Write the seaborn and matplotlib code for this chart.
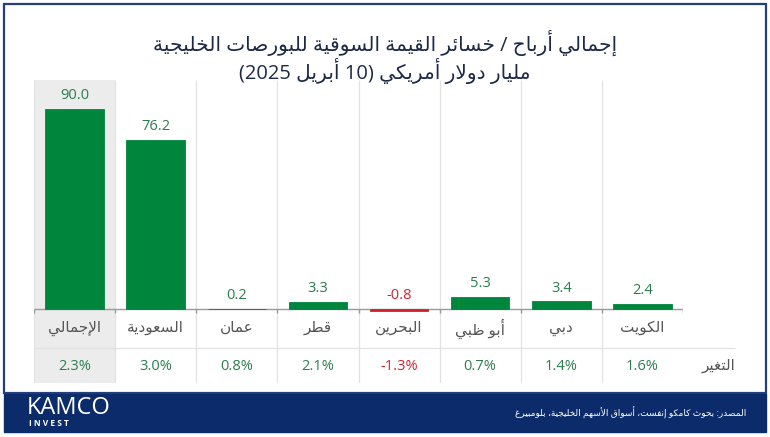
import re
import matplotlib
matplotlib.use("Agg")
import matplotlib.pyplot as plt
from matplotlib.patches import Rectangle
import pandas as pd
import seaborn as sns

markets = ["الإجمالي", "السعودية", "عمان", "قطر", "البحرين", "أبو ظبي", "دبي", "الكويت"]
values = [90.0, 76.2, 0.2, 3.3, -0.8, 5.3, 3.4, 2.4]
changes = [2.3, 3.0, 0.8, 2.1, -1.3, 0.7, 1.4, 1.6]

title_1 = "إجمالي أرباح / خسائر القيمة السوقية للبورصات الخليجية"
title_2 = "مليار دولار أمريكي (10 أبريل 2025)"
change_label = "التغير"
source = "المصدر: بحوث كامكو إنفست، أسواق الأسهم الخليجية، بلومبيرغ"

# matplotlib does no arabic shaping, so pick the presentation forms by hand
# letter -> (first presentation form, number of forms)
FORMS = {
    "ء": (0xFE80, 1), "آ": (0xFE81, 2), "أ": (0xFE83, 2), "ؤ": (0xFE85, 2),
    "إ": (0xFE87, 2), "ئ": (0xFE89, 4), "ا": (0xFE8D, 2), "ب": (0xFE8F, 4),
    "ة": (0xFE93, 2), "ت": (0xFE95, 4), "ث": (0xFE99, 4), "ج": (0xFE9D, 4),
    "ح": (0xFEA1, 4), "خ": (0xFEA5, 4), "د": (0xFEA9, 2), "ذ": (0xFEAB, 2),
    "ر": (0xFEAD, 2), "ز": (0xFEAF, 2), "س": (0xFEB1, 4), "ش": (0xFEB5, 4),
    "ص": (0xFEB9, 4), "ض": (0xFEBD, 4), "ط": (0xFEC1, 4), "ظ": (0xFEC5, 4),
    "ع": (0xFEC9, 4), "غ": (0xFECD, 4), "ف": (0xFED1, 4), "ق": (0xFED5, 4),
    "ك": (0xFED9, 4), "ل": (0xFEDD, 4), "م": (0xFEE1, 4), "ن": (0xFEE5, 4),
    "ه": (0xFEE9, 4), "و": (0xFEED, 2), "ى": (0xFEEF, 2), "ي": (0xFEF1, 4),
}
LAM_ALEF = {"آ": 0xFEF5, "أ": 0xFEF7, "إ": 0xFEF9, "ا": 0xFEFB}


def dual(c):
    return c in FORMS and FORMS[c][1] == 4


def joins(c):
    return c in FORMS and FORMS[c][1] > 1


def ar(text):
    out = []
    i = 0
    n = len(text)
    while i < n:
        c = text[i]
        prev = i > 0 and dual(text[i - 1])
        if c not in FORMS:
            out.append(c)
            i += 1
            continue
        if c == "ل" and i + 1 < n and text[i + 1] in LAM_ALEF:
            out.append(chr(LAM_ALEF[text[i + 1]] + (1 if prev else 0)))
            i += 2
            continue
        base, count = FORMS[c]
        nxt = count == 4 and i + 1 < n and joins(text[i + 1])
        if count == 1:
            form = 0
        elif prev and nxt:
            form = 3
        elif nxt:
            form = 2
        elif prev:
            form = 1
        else:
            form = 0
        out.append(chr(base + form))
        i += 1
    # visual order: right to left, but keep number runs as they are
    s = "".join(out)[::-1]
    s = re.sub(r"[0-9A-Za-z.%]+", lambda m: m.group(0)[::-1], s)
    return s.translate(str.maketrans("()", ")("))


sns.set_style("white")
plt.rcParams["font.family"] = ["Open Sans", "DejaVu Sans"]

green = "#00853c"
green_txt = "#2b7d4e"
red = "#d4202c"
navy = "#0b2b6b"
grid = "#e2e2e2"

W, H = 770, 437
fig = plt.figure(figsize=(W / 100, H / 100), dpi=100)

# frame and footer
fig.patches.append(Rectangle((4 / W, 1 - 393 / H), 762 / W, 389 / H, transform=fig.transFigure,
                             fill=False, edgecolor="#24407a", lw=1.6))
fig.patches.append(Rectangle((4 / W, 1 - 432 / H), 762 / W, 38 / H, transform=fig.transFigure,
                             facecolor=navy, edgecolor=navy))

ax = fig.add_axes([34 / W, 1 - 383 / H, 649 / W, 303 / H])

df = pd.DataFrame({"market": markets, "value": values})
colors = [green if v >= 0 else red for v in values]
sns.barplot(data=df, x="market", y="value", hue="market", palette=colors, legend=False,
            width=0.72, saturation=1, ax=ax, zorder=3)
for bar, col in zip(ax.patches, colors):
    bar.set_edgecolor(col)
    bar.set_linewidth(0.6)

ymin, ymax = -33.3, 103.1
ax.set_ylim(ymin, ymax)
ax.set_xlim(-0.5, 7.5)
ax.set_xticks([])
ax.set_yticks([])
ax.set_xlabel("")
ax.set_ylabel("")
for s in ax.spines.values():
    s.set_visible(False)

# highlighted total column
ax.axvspan(-0.5, 0.5, color="#ececec", zorder=0, lw=0)

# column separators
ax.vlines([i - 0.5 for i in range(len(markets))], ymin, ymax, color=grid, lw=0.9, zorder=1)
ax.hlines(-17.6, -0.5, 8.14, color=grid, lw=0.9, zorder=1, clip_on=False)

# baseline with ticks
ax.hlines(0, -0.5, 7.5, color="#9a9a9a", lw=1.0, zorder=2)
ax.vlines([i - 0.5 for i in range(len(markets) + 1)], -2.0, 0, color="#9a9a9a", lw=1.0, zorder=2)

for i, (v, c) in enumerate(zip(values, changes)):
    tc = green_txt if v >= 0 else red
    ax.text(i, max(v, 0) + 2.6, f"{v:.1f}", ha="center", va="bottom", fontsize=10.5, color=tc)
    ax.text(i, -8.7, ar(markets[i]), ha="center", va="center", fontsize=11, color="#555555")
    ax.text(i, -25.8, f"{c:.1f}%", ha="center", va="center", fontsize=10.5,
            color=green_txt if c >= 0 else red)

ax.text(8.14, -25.8, ar(change_label), ha="right", va="center", fontsize=11, color="#555555",
        clip_on=False)

fig.text(0.5, 1 - 43 / H, ar(title_1), ha="center", va="center", fontsize=14.5, color="#1c2a48")
fig.text(0.5, 1 - 71 / H, ar(title_2), ha="center", va="center", fontsize=14.5, color="#1c2a48")

fig.text(27 / W, 1 - 408 / H, "KAMCO", ha="left", va="center", fontsize=17, color="white")
fig.text(29 / W, 1 - 424 / H, "I N V E S T", ha="left", va="center", fontsize=6,
         fontweight="bold", color="white")
fig.text(746 / W, 1 - 413 / H, ar(source), ha="right", va="center", fontsize=6.5, color="white")

fig.savefig("out.png", dpi=100, facecolor="white")
